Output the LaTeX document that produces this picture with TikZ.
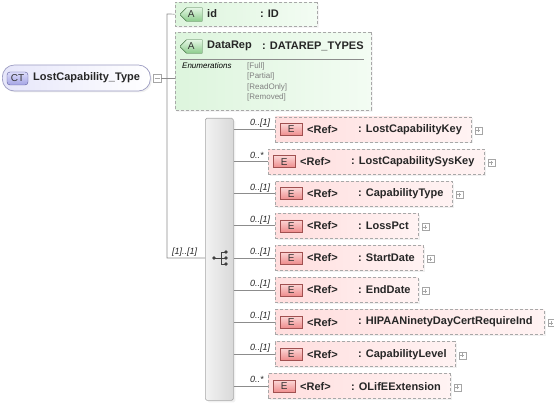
\documentclass[tikz,border=0pt]{standalone}
\usepackage{fontspec}
\setmainfont{Liberation Sans}
\usetikzlibrary{shapes.misc,shadows,calc}
\definecolor{linegray}{HTML}{8C8C8C}
\definecolor{boxgray}{HTML}{A8A8A8}
\definecolor{pinkL}{HTML}{FFDEDE}
\definecolor{pinkR}{HTML}{FFF3F3}
\definecolor{greenL}{HTML}{DDF5DD}
\definecolor{greenR}{HTML}{F3FCF3}
\definecolor{eTop}{HTML}{FCD6D6}
\definecolor{eBot}{HTML}{EE8C8C}
\definecolor{eBord}{HTML}{A05050}
\definecolor{aTop}{HTML}{E4F6E4}
\definecolor{aBot}{HTML}{8CCC8C}
\definecolor{aBord}{HTML}{407040}
\definecolor{ctTop}{HTML}{DCDCFA}
\definecolor{ctBot}{HTML}{A4A4E4}
\definecolor{ctBord}{HTML}{5A5A9A}
\definecolor{ctL}{HTML}{E6E6FA}
\definecolor{enumgray}{HTML}{808080}
\newcommand\elrow[6]{%
  \pgfmathsetmacro\elw{#4-#3}%
  \node[elbox, minimum width=\elw pt, anchor=west] (#1) at (#3,#2) {};
  \node[ebadge, anchor=west] (#1b) at ([xshift=5pt]#1.west) {E};
  \node[eltext, anchor=west] (#1r) at ([xshift=32pt]#1.west) {<Ref>};
  \node[eltext, anchor=west] (#1n) at ([xshift=83pt]#1.west) {: #6};
  \node[plusbox] (#1p) at ([xshift=6.5pt,yshift=-1pt]#1.east) {};
  \node[multst, anchor=base west] (#1m) at (250,#2-3.5) {#5};
  \draw[conn] (seq.east |- #1.west) -- (#1.west);
}
\begin{document}
\begin{tikzpicture}[x=1pt,y=-1pt,
  conn/.style={draw=linegray, line width=0.7pt},
  elbox/.style={draw=boxgray, dash pattern=on 3pt off 2pt, line width=0.7pt,
    left color=pinkL, right color=pinkR, minimum height=25pt, inner sep=0,
    drop shadow={opacity=0.12, shadow xshift=1.5pt, shadow yshift=-1.5pt}},
  attbox/.style={chamfered rectangle, chamfered rectangle corners={north west,south west},
    chamfered rectangle xsep=6pt, draw=boxgray, dash pattern=on 3pt off 2pt, line width=0.7pt,
    left color=greenL, right color=greenR, inner sep=0,
    drop shadow={opacity=0.12, shadow xshift=1.5pt, shadow yshift=-1.5pt}},
  ebadge/.style={draw=eBord, top color=eTop, bottom color=eBot, minimum width=22pt,
    minimum height=12pt, inner sep=0, font=\fontsize{10}{10}\selectfont, text=black!80},
  abadge/.style={chamfered rectangle, chamfered rectangle corners={north west,south west},
    chamfered rectangle xsep=3pt, draw=aBord, top color=aTop, bottom color=aBot,
    minimum width=22pt, minimum height=12pt, inner sep=0,
    font=\fontsize{10}{10}\selectfont, text=black!80},
  eltext/.style={inner sep=0, font=\bfseries\fontsize{11}{12}\selectfont, text=black!85},
  multst/.style={inner sep=0, font=\itshape\fontsize{9}{10}\selectfont, text=black!85},
  smalltext/.style={inner sep=0, font=\fontsize{8}{9}\selectfont},
  plusbox/.style={draw=gray!70, fill=white, minimum size=7pt, inner sep=0,
    path picture={\draw[gray!70, line width=0.5pt]
      ([xshift=-2pt]path picture bounding box.center) -- ([xshift=2pt]path picture bounding box.center)
      ([yshift=-2pt]path picture bounding box.center) -- ([yshift=2pt]path picture bounding box.center);}},
  minusbox/.style={draw=gray!70, fill=white, minimum size=8pt, inner sep=0,
    path picture={\draw[gray!70, line width=0.5pt]
      ([xshift=-2.5pt]path picture bounding box.center) -- ([xshift=2.5pt]path picture bounding box.center);}},
  seqbox/.style={draw=boxgray, line width=0.7pt, left color=white!95!black, right color=white!85!black,
    rounded corners=1.5pt, inner sep=0,
    drop shadow={opacity=0.12, shadow xshift=2pt, shadow yshift=-2pt}},
  ctbox/.style={draw=ctBord!60, line width=0.7pt, rounded corners=12pt, left color=ctL, right color=white,
    inner sep=0, drop shadow={opacity=0.12, shadow xshift=1.5pt, shadow yshift=-1.5pt}},
  ctbadge/.style={draw=ctBord, rounded corners=3pt, top color=ctTop, bottom color=ctBot,
    minimum width=21pt, minimum height=13pt, inner sep=0,
    font=\fontsize{10}{10}\selectfont, text=black!80}
]
\useasboundingbox (0,0) rectangle (554,406);

% complex type
\node[ctbox, minimum width=148pt, minimum height=26pt, anchor=west] (ct) at (2,78) {};
\node[ctbadge] (ctb) at (17.5,78.5) {CT};
\node[eltext, anchor=west] (ctt) at (33,78) {LostCapability\_Type};
\node[minusbox] (ctm) at (157,78) {};

% attributes
\node[attbox, minimum width=142pt, minimum height=24pt, anchor=north west] (id) at (175,2) {};
\node[abadge, anchor=west] (idb) at (180,14.5) {A};
\node[eltext, anchor=west] (idn) at (207,14) {id};
\node[eltext, anchor=west] (idt) at (260,14) {: ID};

\node[attbox, minimum width=196pt, minimum height=78pt, anchor=north west] (dr) at (175,32) {};
\node[abadge, anchor=west] (drb) at (180,46.5) {A};
\node[eltext, anchor=west] (drn) at (207,46) {DataRep};
\node[eltext, anchor=west] (drt) at (262,46) {: DATAREP\_TYPES};
\draw[draw=linegray, line width=0.6pt] (180,59.5) -- (364,59.5);
\node[smalltext, anchor=west, font=\itshape\fontsize{8}{9}\selectfont] (enl) at (182,66) {Enumerations};
\node[smalltext, anchor=west, text=enumgray] (en1) at (247,66) {[Full]};
\node[smalltext, anchor=west, text=enumgray] (en2) at (247,76.5) {[Partial]};
\node[smalltext, anchor=west, text=enumgray] (en3) at (247,87) {[ReadOnly]};
\node[smalltext, anchor=west, text=enumgray] (en4) at (247,97.5) {[Removed]};

% sequence
\node[seqbox, minimum width=28pt, minimum height=282pt, anchor=north west] (seq) at (205,118) {};
\fill[black!75] (214,258) circle (1.8);
\draw[black!75, line width=0.8pt] (214,258) -- (221,258) (221,252) -- (221,264)
  (221,252) -- (226,252) (221,264) -- (226,264) (221,258) -- (226,258);
\fill[black!75] (226,252) circle (1.8) (226,258) circle (1.8) (226,264) circle (1.8);

% trunk connectors
\coordinate (tkTop) at (167,14);
\coordinate (tkBot) at (167,258);
\draw[conn] (ctm.east) -- (ctm.east -| dr.west);
\draw[conn] (id.west) -- (tkTop) -- (tkBot) -- (seq.west |- tkBot);
\node[multst, anchor=base west] (seqm) at (172,254.5) {[1]..[1]};

% elements
\elrow{e1}{129.5}{275}{471}{0..[1]}{LostCapabilityKey}
\elrow{e2}{161.6}{268}{484}{0..*}{LostCapabilitySysKey}
\elrow{e3}{193.7}{275}{452}{0..[1]}{CapabilityType}
\elrow{e4}{225.8}{275}{418}{0..[1]}{LossPct}
\elrow{e5}{257.9}{275}{423}{0..[1]}{StartDate}
\elrow{e6}{290}{275}{418}{0..[1]}{EndDate}
\elrow{e7}{322.1}{275}{544}{0..[1]}{HIPAANinetyDayCertRequireInd}
\elrow{e8}{354.2}{275}{455}{0..[1]}{CapabilityLevel}
\elrow{e9}{386.3}{268}{450}{0..*}{OLifEExtension}
\end{tikzpicture}
\end{document}
